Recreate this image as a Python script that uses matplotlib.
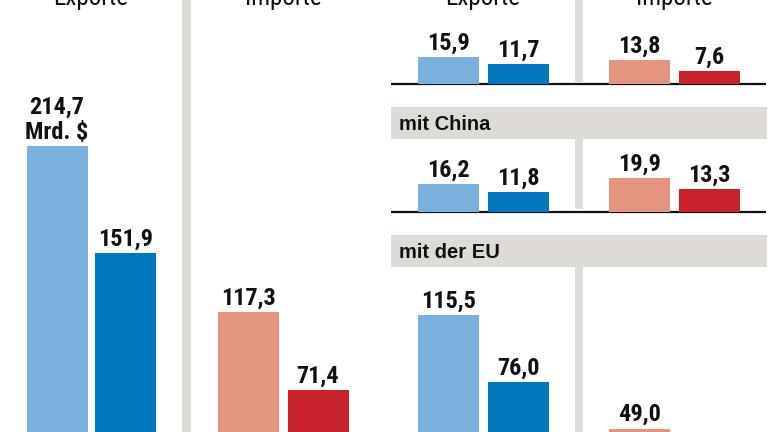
import matplotlib.pyplot as plt
from matplotlib.patches import Rectangle

# values in Mrd. $ (light bar = first value, dark bar = second value)
gesamt_exporte = [214.7, 151.9]
gesamt_importe = [117.3, 71.4]
row1_exporte = [15.9, 11.7]
row1_importe = [13.8, 7.6]
china_exporte = [16.2, 11.8]
china_importe = [19.9, 13.3]
eu_exporte = [115.5, 76.0]
eu_importe = [49.0]

headers = ["Exporte", "Importe"]
bands = ["mit China", "mit der EU"]

W, H = 768, 432
PX = 1.704  # pixels per Mrd. $

C_EXP = ["#79b0dc", "#0078bd"]
C_IMP = ["#e3957f", "#c8232c"]
GRAY = "#dedbd6"

NUM_FONT = ["Liberation Sans Narrow", "Roboto Condensed", "DejaVu Sans Condensed", "DejaVu Sans"]
BAND_FONT = ["Liberation Sans", "DejaVu Sans"]

fig = plt.figure(figsize=(W / 100, H / 100), dpi=100)

# background / decoration layer in pixel coordinates
bg = fig.add_axes([0, 0, 1, 1])
bg.set_xlim(0, W)
bg.set_ylim(H, 0)
bg.axis("off")

# vertical separators
bg.add_patch(Rectangle((182, 0), 9, H, color=GRAY, lw=0))
for y0, y1 in [(0, 82), (139, 209), (267, H)]:
    bg.add_patch(Rectangle((575, y0), 8, y1 - y0, color=GRAY, lw=0))

# grey bands with section titles
for label, y0 in zip(bands, [107, 235]):
    bg.add_patch(Rectangle((391, y0), 376, 32, color=GRAY, lw=0))
    bg.text(399, y0 + 23, label, family=BAND_FONT, weight="bold",
            fontsize=14.5, color="#111111", va="baseline")

# baselines of the upper right rows
for y in [84, 212]:
    bg.plot([391, 766], [y, y], color="#111111", lw=1.6, solid_capstyle="butt")

# column headers (cut off at the top)
for xc, txt in [(91, headers[0]), (283, headers[1]),
                (483, headers[0]), (674, headers[1])]:
    bg.text(xc, 5, txt, family=NUM_FONT, stretch="condensed", fontsize=18,
            color="#111111", ha="center", va="baseline")


def row_axes(base_y):
    ax = fig.add_axes([0, (H - base_y) / H, 1, base_y / H], facecolor="none")
    ax.set_xlim(0, W)
    ax.set_ylim(0, base_y / PX)
    ax.axis("off")
    return ax


def fmt(v):
    return f"{v:.1f}".replace(".", ",")


def draw(ax, xs, vals, colors, first_unit=False):
    ax.bar(xs[:len(vals)], vals, width=61, color=colors[:len(vals)], lw=0)
    for i, (x, v) in enumerate(zip(xs, vals)):
        txt = fmt(v) + ("\nMrd. $" if first_unit and i == 0 else "")
        ax.annotate(txt, (x, v), xytext=(0, 5.5), textcoords="offset points",
                    ha="center", va="baseline", family=NUM_FONT,
                    stretch="condensed", weight="bold", fontsize=17.5,
                    color="#111111", linespacing=1.1, annotation_clip=False)


LEFT_EXP = [57, 125.5]
LEFT_IMP = [248.5, 318]
RIGHT_EXP = [448.5, 518.5]
RIGHT_IMP = [639.5, 709.5]

ax_big = row_axes(512)
draw(ax_big, LEFT_EXP, gesamt_exporte, C_EXP, first_unit=True)
draw(ax_big, LEFT_IMP, gesamt_importe, C_IMP)
draw(ax_big, RIGHT_EXP, eu_exporte, C_EXP)
draw(ax_big, RIGHT_IMP, eu_importe, C_IMP)

ax_r1 = row_axes(84)
draw(ax_r1, RIGHT_EXP, row1_exporte, C_EXP)
draw(ax_r1, RIGHT_IMP, row1_importe, C_IMP)

ax_cn = row_axes(212)
draw(ax_cn, RIGHT_EXP, china_exporte, C_EXP)
draw(ax_cn, RIGHT_IMP, china_importe, C_IMP)

fig.savefig("out.png", dpi=100)
